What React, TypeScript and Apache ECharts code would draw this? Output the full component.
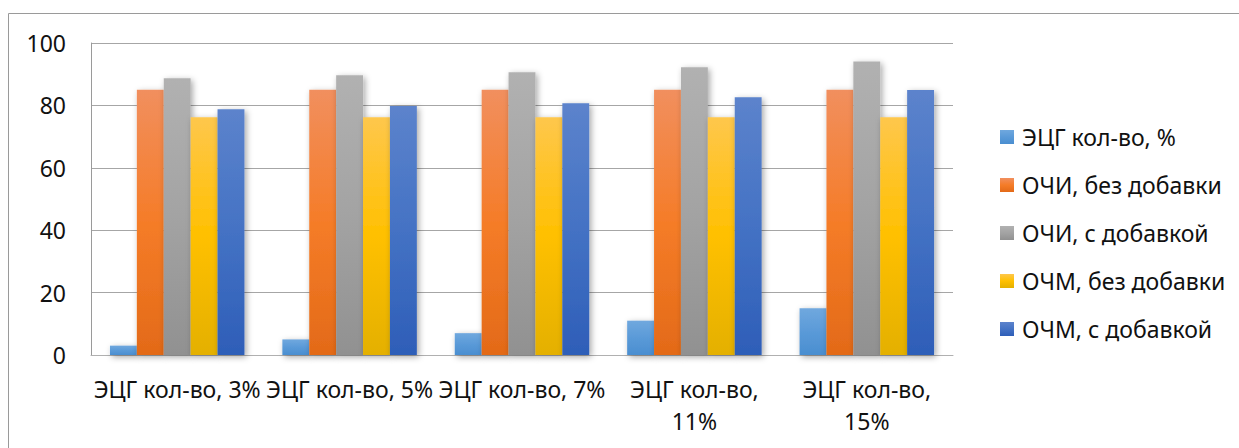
import React, { useEffect, useRef } from "react";
import * as echarts from "echarts";

const categories = [
  "ЭЦГ кол-во, 3%",
  "ЭЦГ кол-во, 5%",
  "ЭЦГ кол-во, 7%",
  "ЭЦГ кол-во,\n11%",
  "ЭЦГ кол-во,\n15%",
];

const seriesNames = [
  "ЭЦГ кол-во, %",
  "ОЧИ, без добавки",
  "ОЧИ, с добавкой",
  "ОЧМ, без добавки",
  "ОЧМ, с добавкой",
];

const ecgValues = [3, 5, 7, 11, 15];
const ochiWithout = [85, 85, 85, 85, 85];
const ochiWith = [88.7, 89.7, 90.6, 92.2, 94.1];
const ochmWithout = [76.2, 76.2, 76.2, 76.2, 76.2];
const ochmWith = [78.8, 79.8, 80.7, 82.6, 84.9];

const yTicks = { min: 0, max: 100, interval: 20 };

const gradients: string[][] = [
  ["#70a8de", "#5a9ad8", "#4a8ed0"],
  ["#f18f5e", "#f57c28", "#e36a18"],
  ["#b1b1b1", "#a3a3a3", "#919191"],
  ["#fec74c", "#ffc000", "#e4b000"],
  ["#5c83cc", "#4472c4", "#2e5eb8"],
];

const FONT = "Noto Sans";

export default function App() {
  const ref = useRef<HTMLDivElement>(null);

  useEffect(() => {
    if (!ref.current) return;
    const chart = echarts.init(ref.current, undefined, { renderer: "svg" });
    const data = [ecgValues, ochiWithout, ochiWith, ochmWithout, ochmWith];

    const series = data.map((vals, i) => ({
      name: seriesNames[i],
      type: "bar" as const,
      data: vals,
      barGap: "0%",
      barCategoryGap: "22%",
      itemStyle: {
        color: new echarts.graphic.LinearGradient(0, 0, 0, 1, [
          { offset: 0, color: gradients[i][0] },
          { offset: 0.5, color: gradients[i][1] },
          { offset: 1, color: gradients[i][2] },
        ]),
        shadowBlur: 6,
        shadowColor: "rgba(0,0,0,0.35)",
        shadowOffsetX: 2,
        shadowOffsetY: 2,
      },
    }));

    chart.setOption({
      animation: false,
      backgroundColor: "#ffffff",
      textStyle: { fontFamily: FONT },
      graphic: [
        {
          type: "rect",
          z: -10,
          silent: true,
          shape: { x: 8.5, y: 13.5, width: 1400, height: 600 },
          style: { fill: "none", stroke: "#9a9a9a", lineWidth: 1 },
        },
      ],
      grid: { left: 91, right: 286, top: 43, bottom: 93, containLabel: false },
      legend: {
        orient: "vertical",
        left: 995,
        top: 120,
        itemWidth: 14,
        itemHeight: 14,
        itemGap: 24,
        icon: "rect",
        data: seriesNames,
        textStyle: {
          fontFamily: FONT,
          fontSize: 23,
          lineHeight: 24,
          color: "#111111",
          padding: [0, 0, 0, 3],
        },
      },
      xAxis: {
        type: "category",
        data: categories,
        axisLine: { show: true, lineStyle: { color: "#b0b0b0", width: 1 } },
        axisTick: { show: false },
        axisLabel: {
          interval: 0,
          fontFamily: FONT,
          fontSize: 23,
          lineHeight: 32,
          color: "#111111",
          margin: 18,
        },
      },
      yAxis: {
        type: "value",
        min: yTicks.min,
        max: yTicks.max,
        interval: yTicks.interval,
        axisLine: { show: true, lineStyle: { color: "#9a9a9a", width: 1 } },
        axisTick: { show: false },
        splitLine: { show: true, lineStyle: { color: "#a6a6a6", width: 1 } },
        axisLabel: {
          fontFamily: FONT,
          fontSize: 23,
          color: "#111111",
          margin: 25,
        },
      },
      series,
    });

    return () => {
      chart.dispose();
    };
  }, []);

  return (
    <div
      ref={ref}
      style={{ position: "absolute", left: 0, top: 0, width: 1239, height: 448 }}
    />
  );
}
